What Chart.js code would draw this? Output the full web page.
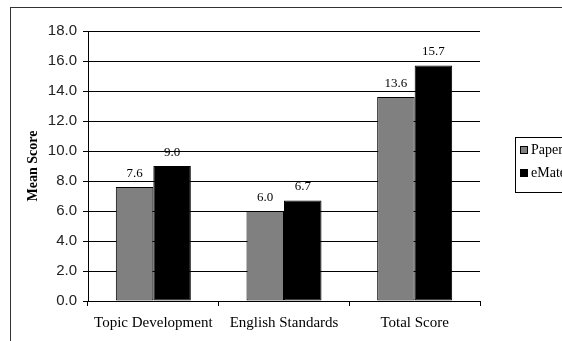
<!DOCTYPE html>
<html>
<head>
<meta charset="utf-8">
<script src="https://cdn.jsdelivr.net/npm/chart.js@4/dist/chart.umd.min.js"></script>
<style>
  body { margin: 0; background: #fff; overflow: hidden; }
</style>
</head>
<body>
<canvas id="scoreCanvas" width="562" height="341"></canvas>
<script>
const categories = ["Topic Development", "English Standards", "Total Score"];
const paperScores = [7.6, 6.0, 13.6];
const emateScores = [9.0, 6.7, 15.7];
const seriesNames = ["Paper", "eMate"];

const serif = "'Liberation Serif', 'Times New Roman', serif";
const sans = "'Liberation Sans', Arial, sans-serif";

// frame around the whole chart + legend box
const framePlugin = {
  id: "frame",
  beforeDraw(chart) {
    const ctx = chart.ctx;
    ctx.save();
    ctx.fillStyle = "#fff";
    ctx.fillRect(0, 0, chart.width, chart.height);
    ctx.strokeStyle = "#333";
    ctx.lineWidth = 1;
    ctx.strokeRect(10.5, 7.5, 700, 500);
    ctx.restore();
  },
  afterDraw(chart) {
    const ctx = chart.ctx;
    ctx.save();
    ctx.strokeStyle = "#000";
    ctx.lineWidth = 1;
    ctx.strokeRect(515.5, 137.5, 70, 55);
    const colors = ["#808080", "#000"];
    const rowY = [150, 173];
    ctx.font = "14px " + serif;
    ctx.textBaseline = "middle";
    ctx.textAlign = "left";
    for (let i = 0; i < seriesNames.length; i++) {
      ctx.fillStyle = colors[i];
      ctx.fillRect(520, rowY[i] - 4, 7, 7);
      ctx.strokeRect(520.5, rowY[i] - 3.5, 7, 7);
      ctx.fillStyle = "#000";
      ctx.fillText(seriesNames[i], 531, rowY[i]);
    }
    ctx.restore();
  }
};

// value labels above bars
const valuePlugin = {
  id: "values",
  afterDatasetsDraw(chart) {
    const ctx = chart.ctx;
    ctx.save();
    ctx.font = "13px " + serif;
    ctx.fillStyle = "#000";
    ctx.textAlign = "center";
    ctx.textBaseline = "bottom";
    chart.data.datasets.forEach((ds, i) => {
      chart.getDatasetMeta(i).data.forEach((bar, j) => {
        ctx.fillText(ds.data[j].toFixed(1), bar.x, bar.y - 7);
      });
    });
    ctx.restore();
  }
};

new Chart(document.getElementById("scoreCanvas"), {
  type: "bar",
  data: {
    labels: categories,
    datasets: [
      {
        label: seriesNames[0],
        data: paperScores,
        backgroundColor: "#808080",
        borderColor: "#000",
        borderWidth: 1,
        borderSkipped: false
      },
      {
        label: seriesNames[1],
        data: emateScores,
        backgroundColor: "#000",
        borderColor: "#000",
        borderWidth: 1,
        borderSkipped: false
      }
    ]
  },
  options: {
    responsive: false,
    animation: false,
    layout: { padding: { left: 0, right: 82, top: 31, bottom: 0 } },
    datasets: { bar: { barPercentage: 1, categoryPercentage: 0.574 } },
    plugins: {
      legend: { display: false },
      tooltip: { enabled: false }
    },
    scales: {
      x: {
        afterFit(scale) { scale.height = 40; },
        grid: {
          drawOnChartArea: false,
          tickLength: 5,
          color: "#000"
        },
        border: { color: "#000" },
        ticks: {
          color: "#000",
          padding: 8,
          font: { family: serif, size: 15 }
        }
      },
      y: {
        min: 0,
        max: 18,
        afterFit(scale) { scale.width = 88; },
        grid: { color: "#000", tickLength: 5 },
        border: { color: "#000" },
        ticks: {
          stepSize: 2,
          color: "#222",
          padding: 6,
          font: { family: sans, size: 15 },
          callback: v => v.toFixed(1)
        },
        title: {
          display: true,
          text: "Mean Score",
          color: "#000",
          padding: { top: 25, bottom: 0 },
          font: { family: serif, size: 14, weight: "bold" }
        }
      }
    }
  },
  plugins: [framePlugin, valuePlugin]
});
</script>
</body>
</html>
